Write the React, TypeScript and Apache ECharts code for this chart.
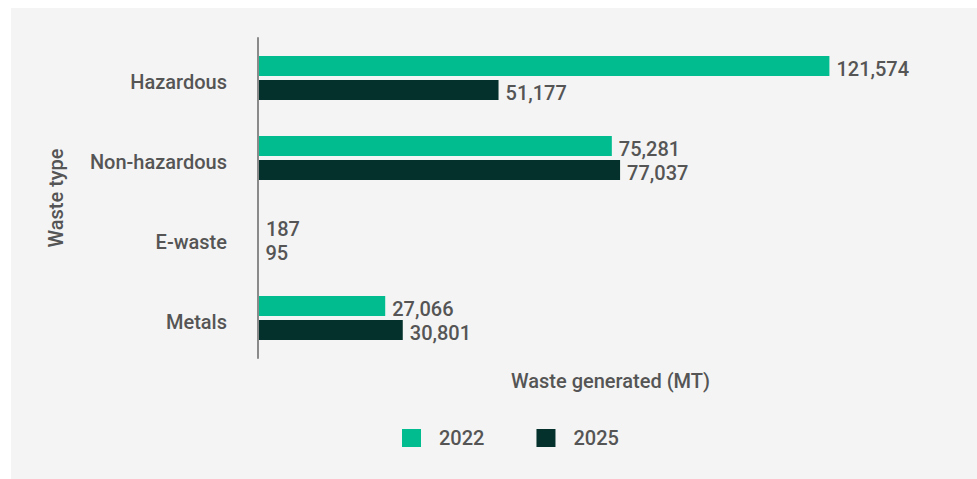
import React, { useEffect, useRef } from "react";
import * as echarts from "echarts";

const categories = ["Hazardous", "Non-hazardous", "E-waste", "Metals"];
const series2022 = [121574, 75281, 187, 27066];
const series2025 = [51177, 77037, 95, 30801];
const seriesNames = ["2022", "2025"];

const FONT = "Roboto, 'Noto Sans', sans-serif";
const TEXT = "#555555";
const WEIGHT = 500;

export default function App() {
  const ref = useRef<HTMLDivElement>(null);
  useEffect(() => {
    const chart = echarts.init(ref.current!, null, { renderer: "svg" });
    const fmt = (p: any) => "{v|" + Number(p.value).toLocaleString("en-US") + "}";
    const valueLabel = {
      show: true,
      position: "right",
      distance: 7,
      formatter: fmt,
      rich: {
        v: {
          color: TEXT,
          fontSize: 20,
          fontWeight: WEIGHT,
          fontFamily: FONT,
          padding: [5, 0, 0, 0],
        },
      },
    };
    chart.setOption({
      animation: false,
      backgroundColor: "#ffffff",
      textStyle: { fontFamily: FONT },
      graphic: [
        {
          type: "rect",
          shape: { x: 11, y: 8, width: 966, height: 471 },
          style: { fill: "#f4f4f4" },
          z: -10,
        },
      ],
      legend: {
        data: seriesNames,
        left: 397,
        top: 423,
        itemWidth: 19,
        itemHeight: 18,
        itemGap: 52,
        icon: "rect",
        textStyle: {
          color: TEXT,
          fontSize: 20,
          fontWeight: WEIGHT,
          fontFamily: FONT,
          padding: [0, 0, 0, 13],
        },
      },
      grid: { left: 258, right: 14, top: 38, bottom: 121, containLabel: false },
      xAxis: {
        type: "value",
        min: 0,
        max: 150000,
        axisLine: { show: false },
        axisTick: { show: false },
        axisLabel: { show: false },
        splitLine: { show: false },
        name: "Waste generated (MT)",
        nameLocation: "middle",
        nameGap: 13,
        nameTextStyle: { color: TEXT, fontSize: 20, fontWeight: WEIGHT, fontFamily: FONT },
      },
      yAxis: {
        type: "category",
        data: categories,
        inverse: true,
        z: 5,
        axisLine: { show: true, lineStyle: { color: "#8a8a8a", width: 2 } },
        axisTick: { show: false },
        axisLabel: {
          margin: 31,
          formatter: (v: string) => "{c|" + v + "}",
          rich: {
            c: {
              color: TEXT,
              fontSize: 20,
              fontWeight: WEIGHT,
              fontFamily: FONT,
              padding: [8, 0, 0, 0],
            },
          },
        },
        name: "Waste type",
        nameLocation: "middle",
        nameGap: 192,
        nameTextStyle: { color: TEXT, fontSize: 20, fontWeight: WEIGHT, fontFamily: FONT },
      },
      series: [
        {
          name: seriesNames[0],
          type: "bar",
          data: series2022,
          barWidth: 20,
          barGap: "20%",
          itemStyle: { color: "#00bc8f" },
          label: valueLabel,
        },
        {
          name: seriesNames[1],
          type: "bar",
          data: series2025,
          barWidth: 20,
          barGap: "20%",
          itemStyle: { color: "#04312b" },
          label: valueLabel,
        },
      ],
    });
    return () => chart.dispose();
  }, []);
  return (
    <div
      ref={ref}
      style={{ position: "fixed", left: 0, top: 0, width: 977, height: 479 }}
    />
  );
}
